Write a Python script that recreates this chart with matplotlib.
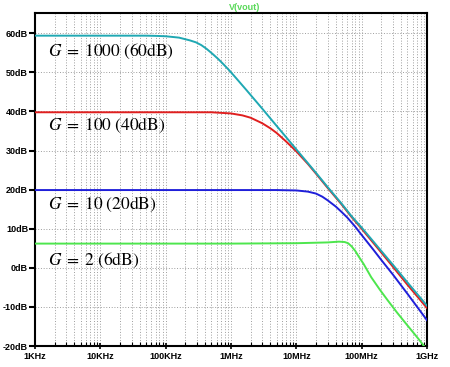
import matplotlib
matplotlib.use("Agg")
import matplotlib.pyplot as plt
import numpy as np
from matplotlib.ticker import LogLocator, FixedLocator, NullFormatter

# ---- data ----
f_g1000 = [1e3, 1e4, 5e4, 7e4, 1e5, 1.6e5, 2.34e5, 2.9e5, 3.5e5, 4.25e5, 5.25e5, 6.4e5, 7.7e5, 9.5e5, 1.16e6, 1.75e6, 3e6, 5e6, 7e6, 1e7, 2e7, 3e7, 5e7, 7e7, 1e8, 2e8, 3e8, 5e8, 7e8, 1e9]
g1000 = [59.4, 59.4, 59.4, 59.35, 59.25, 58.9, 58.2, 57.7, 57.0, 56.0, 54.7, 53.4, 52.05, 50.45, 48.8, 45.35, 40.75, 36.3, 33.4, 30.3, 24.3, 20.7, 16.3, 13.2, 10.3, 4.3, 0.8, -3.7, -6.6, -9.7]

f_g100 = [1e3, 1e4, 1e5, 5e5, 1e6, 1.5e6, 2e6, 3e6, 4e6, 5e6, 7e6, 1e7, 1.5e7, 2e7, 3e7, 5e7, 7e7, 1e8, 2e8, 3e8, 5e8, 7e8, 1e9]
g100 = [39.8, 39.8, 39.8, 39.8, 39.5, 39.0, 38.4, 37.0, 35.7, 34.5, 32.3, 29.8, 26.6, 24.1, 20.5, 16.1, 13.0, 10.0, 3.9, 0.3, -4.3, -7.2, -10.3]

f_g10 = [1e3, 1e4, 1e5, 1e6, 5e6, 1e7, 1.5e7, 2e7, 2.5e7, 3e7, 4e7, 5e7, 6e7, 8e7, 1e8, 1.5e8, 2e8, 3e8, 5e8, 7e8, 1e9]
g10 = [19.9, 19.9, 19.9, 19.9, 19.9, 19.8, 19.5, 19.0, 18.2, 17.3, 15.7, 14.2, 12.9, 10.5, 8.4, 4.7, 2.0, -1.7, -6.6, -9.9, -13.4]

f_g2 = [1e3, 1e4, 1e5, 1e6, 1e7, 3e7, 4.5e7, 5.5e7, 6.2e7, 7e7, 8e7, 9e7, 1.07e8, 1.4e8, 1.9e8, 2.5e8, 3.5e8, 5e8, 6.2e8, 7.5e8, 8.7e8, 1e9]
g2 = [6.2, 6.2, 6.2, 6.2, 6.3, 6.5, 6.7, 6.6, 6.3, 5.5, 4.3, 2.9, 1.0, -2.4, -5.6, -8.3, -11.5, -14.7, -16.6, -18.3, -19.7, -21.0]

xtick_vals = [1e3, 1e4, 1e5, 1e6, 1e7, 1e8, 1e9]
xtick_labels = ["1KHz", "10KHz", "100KHz", "1MHz", "10MHz", "100MHz", "1GHz"]
ytick_vals = [-20, -10, 0, 10, 20, 30, 40, 50, 60]
ytick_labels = ["-20dB", "-10dB", "0dB", "10dB", "20dB", "30dB", "40dB", "50dB", "60dB"]

annot_text = [r"$G\;=\;1000\ (60\mathrm{dB})$", r"$G\;=\;100\ (40\mathrm{dB})$",
              r"$G\;=\;10\ (20\mathrm{dB})$", r"$G\;=\;2\ (6\mathrm{dB})$"]
annot_x = [1.6e3, 1.6e3, 1.6e3, 1.6e3]
annot_y = [54.3, 35.2, 15.0, 0.8]

# ---- figure ----
fig = plt.figure(figsize=(4.5, 3.67), dpi=100)
ax = fig.add_axes([35/450, 1-346/367, (427-35)/450, (346-13)/367])
ax.set_xscale("log")
ax.set_xlim(1e3, 1e9)
ax.set_ylim(-20, 65.2)

lw = 1.4
ax.plot(f_g2, g2, color=(0.30, 0.90, 0.30), lw=lw, zorder=3)
ax.plot(f_g10, g10, color=(0.12, 0.12, 0.85), lw=lw, zorder=4)
ax.plot(f_g100, g100, color=(0.88, 0.12, 0.12), lw=lw, zorder=5)
ax.plot(f_g1000, g1000, color=(0.12, 0.66, 0.70), lw=lw, zorder=6)

ax.xaxis.set_major_locator(FixedLocator(xtick_vals))
ax.xaxis.set_minor_locator(LogLocator(base=10, subs=np.arange(2, 10), numticks=20))
ax.xaxis.set_minor_formatter(NullFormatter())
ax.set_xticks(xtick_vals)
ax.set_xticklabels(xtick_labels)
ax.set_yticks(ytick_vals)
ax.set_yticklabels(ytick_labels)

grid_kw = dict(color=(0.62, 0.62, 0.62), lw=0.7, ls=(0, (1, 1.8)))
ax.grid(True, which="major", axis="both", **grid_kw)
ax.grid(True, which="minor", axis="x", **grid_kw)

for s in ax.spines.values():
    s.set_linewidth(1.5)
    s.set_color("black")

ax.tick_params(axis="y", which="major", direction="out", length=4, width=1.5, labelsize=6.5, pad=1)
ax.tick_params(axis="x", which="major", direction="inout", length=5, width=1.2, labelsize=6.5, pad=2)
ax.tick_params(axis="x", which="minor", direction="in", length=3, width=0.8)
for lab in ax.get_xticklabels() + ax.get_yticklabels():
    lab.set_fontweight("bold")
    lab.set_family("Liberation Sans")

for t, x, y in zip(annot_text, annot_x, annot_y):
    ax.text(x, y, t, fontsize=12.5, va="baseline", ha="left", zorder=7,
            math_fontfamily="stix")

fig.text(245/450, 1-7/367, "V(vout)", color=(0.35, 0.85, 0.35), fontsize=6.5, fontweight="bold",
         family="Liberation Sans", ha="center", va="center")

fig.savefig("out.png", dpi=100)
